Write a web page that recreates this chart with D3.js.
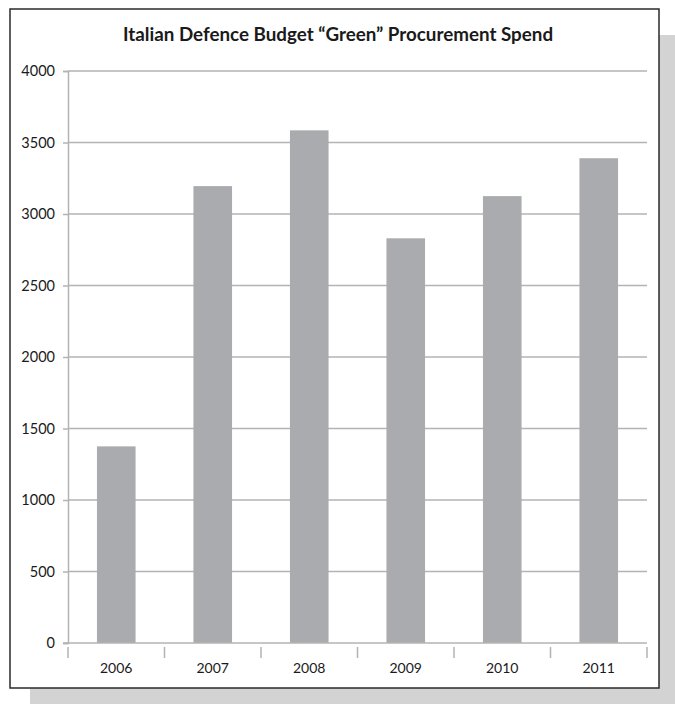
<!DOCTYPE html>
<html>
<head>
<meta charset="utf-8">
<script src="https://cdn.jsdelivr.net/npm/d3@7/dist/d3.min.js"></script>
<style>
  html, body { margin: 0; padding: 0; background: #fff; }
  svg { display: block; }
</style>
</head>
<body>
<svg id="chart" width="675" height="704"></svg>
<script>
// Chart data
const title = "Italian Defence Budget \u201cGreen\u201d Procurement Spend";
const years = ["2006", "2007", "2008", "2009", "2010", "2011"];
const spend = [1375, 3195, 3585, 2830, 3125, 3390];
const yTicks = [0, 500, 1000, 1500, 2000, 2500, 3000, 3500, 4000];

const svg = d3.select("#chart");
const font = "'Lato', 'Open Sans', sans-serif";

// Frame with drop shadow
const frame = { x: 10, y: 9, w: 649, h: 679 };
svg.append("rect")
  .attr("x", frame.x + 20).attr("y", frame.y + 26)
  .attr("width", frame.w).attr("height", frame.h)
  .attr("fill", "#d3d3d3");
svg.append("rect")
  .attr("x", frame.x).attr("y", frame.y)
  .attr("width", frame.w).attr("height", frame.h)
  .attr("fill", "#fff")
  .attr("stroke", "#2a2a2a").attr("stroke-width", 1.5);

// Title
svg.append("text")
  .attr("x", 338).attr("y", 41)
  .attr("text-anchor", "middle")
  .attr("font-family", font).attr("font-weight", "bold")
  .attr("font-size", 18.8).attr("fill", "#1a1a1a")
  .text(title);

// Plot area
const plot = { left: 68, right: 647, top: 71, bottom: 643 };

const x = d3.scaleBand()
  .domain(years)
  .range([plot.left, plot.right])
  .paddingInner(0.6).paddingOuter(0.3);

const y = d3.scaleLinear()
  .domain([0, 4000])
  .range([plot.bottom, plot.top]);

// Horizontal gridlines
svg.append("g")
  .selectAll("line")
  .data(yTicks.filter(d => d > 0))
  .join("line")
  .attr("x1", plot.left).attr("x2", plot.right)
  .attr("y1", d => y(d)).attr("y2", d => y(d))
  .attr("stroke", "#b3b3b3").attr("stroke-width", 1.5);

// Bars
svg.append("g")
  .selectAll("rect")
  .data(years.map((yr, i) => ({ yr, v: spend[i] })))
  .join("rect")
  .attr("x", d => x(d.yr))
  .attr("width", x.bandwidth())
  .attr("y", d => y(d.v))
  .attr("height", d => y(0) - y(d.v))
  .attr("fill", "#aaabae");

// Y axis
const yAxis = svg.append("g")
  .attr("transform", `translate(${plot.left},0)`)
  .call(d3.axisLeft(y).tickValues(yTicks).tickSize(5).tickPadding(8).tickFormat(d3.format("d")));
yAxis.select(".domain").attr("stroke", "#b3b3b3").attr("stroke-width", 1.5);
yAxis.selectAll(".tick line").attr("stroke", "#b3b3b3").attr("stroke-width", 1.5);
yAxis.selectAll(".tick text")
  .attr("font-family", font).attr("font-size", 14.5).attr("fill", "#1a1a1a");

// X axis: baseline with tick marks at category boundaries
const xg = svg.append("g");
xg.append("line")
  .attr("x1", plot.left - 5).attr("x2", plot.right)
  .attr("y1", y(0)).attr("y2", y(0))
  .attr("stroke", "#b3b3b3").attr("stroke-width", 1.5);
const bounds = d3.range(years.length + 1).map(i => plot.left + i * (plot.right - plot.left) / years.length);
xg.selectAll("line.bound")
  .data(bounds)
  .join("line")
  .attr("class", "bound")
  .attr("x1", d => d).attr("x2", d => d)
  .attr("y1", y(0) + 4).attr("y2", y(0) + 15)
  .attr("stroke", "#b3b3b3").attr("stroke-width", 1.5);
xg.selectAll("text")
  .data(years)
  .join("text")
  .attr("x", d => x(d) + x.bandwidth() / 2)
  .attr("y", y(0) + 30)
  .attr("text-anchor", "middle")
  .attr("font-family", font).attr("font-size", 14).attr("fill", "#1a1a1a")
  .text(d => d);
</script>
</body>
</html>
